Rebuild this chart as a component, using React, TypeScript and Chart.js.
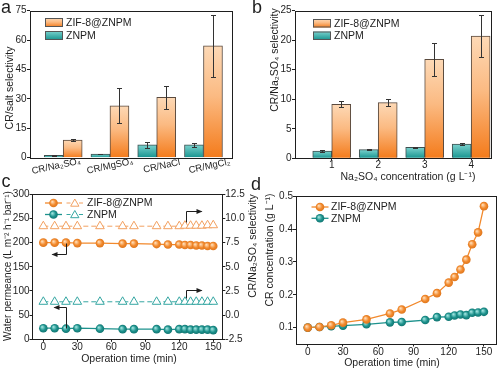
import React, { useEffect, useRef } from 'react';
import { Chart, registerables } from 'chart.js';

Chart.register(...registerables);

const FONT = "'Liberation Sans', Arial, Helvetica, sans-serif";
const INK = '#1e1e1e';

// ---------- panel a : CR/salt selectivity ----------
const saltPairs = ['CR/Na₂SO₄', 'CR/MgSO₄', 'CR/NaCl', 'CR/MgCl₂'];
const saltZnpm = [1.2, 1.9, 6.6, 6.6];
const saltZnpmErr = [0.2, 0.2, 1.5, 0.9];
const saltZif = [9.0, 26.5, 30.8, 57.1];
const saltZifErr = [0.5, 9.0, 5.7, 15.8];
const saltTicks = [0, 15, 30, 45, 60, 75];

// ---------- panel b : CR/Na2SO4 selectivity vs concentration ----------
const concLevels = ['1', '2', '3', '4'];
const concZnpm = [1.24, 1.46, 1.86, 2.42];
const concZnpmErr = [0.1, 0.08, 0.1, 0.12];
const concZif = [9.15, 9.42, 16.76, 20.7];
const concZifErr = [0.5, 0.55, 2.75, 3.5];
const concTicks = [0, 5, 10, 15, 20, 25];

// ---------- panels c, d : operation time ----------
const timeMin = [0, 10, 20, 30, 50, 70, 80, 100, 110, 120, 125, 130, 135, 140, 145, 150];
const permZif = [200, 200, 200, 199, 199, 198, 198, 197, 196, 196, 195, 195, 194, 194, 193, 193];
const permZnpm = [23, 23, 22, 23, 22, 21, 21, 21, 20, 21, 21, 20, 20, 20, 20, 19];
const selTimeZif = [9.2, 9.2, 9.2, 9.2, 9.2, 9.2, 9.2, 9.2, 9.2, 9.2, 9.25, 9.25, 9.25, 9.25, 9.3, 9.3];
const selTimeZnpm = [1.38, 1.38, 1.38, 1.38, 1.38, 1.38, 1.38, 1.38, 1.38, 1.38, 1.38, 1.38, 1.38, 1.38, 1.38, 1.38];
const crZif = [0.1, 0.102, 0.107, 0.115, 0.125, 0.143, 0.155, 0.187, 0.205, 0.237, 0.254, 0.277, 0.307, 0.354, 0.39, 0.47];
const crZnpm = [0.1, 0.102, 0.104, 0.106, 0.11, 0.116, 0.117, 0.123, 0.132, 0.133, 0.137, 0.14, 0.138, 0.145, 0.146, 0.148];

const permTicks = [0, 50, 100, 150, 200, 250, 300];
const selTicks = [-2.5, 0, 2.5, 5, 7.5, 10, 12.5];
const timeTicks = [0, 30, 60, 90, 120, 150];
const crTicks = [0.1, 0.2, 0.3, 0.4, 0.5];

// arrows in panel c (data units): x path, y path, axis, direction
const cArrows = [
  { xs: [20, 20, 8], ys: [200, 176, 176], axis: 'y', dir: 'left' },
  { xs: [20, 20, 9], ys: [23, 67, 67], axis: 'y', dir: 'left' },
  { xs: [126, 126, 139], ys: [9.6, 10.8, 10.8], axis: 'y2', dir: 'right' },
  { xs: [126, 126, 139], ys: [1.8, 2.6, 2.6], axis: 'y2', dir: 'right' },
];

// ---------- styles ----------
const ORANGE = '#f2892c';
const ORANGE_DARK = '#d9721a';
const ORANGE_LIGHT = '#ffdcb5';
const TEAL = '#1d928d';
const TEAL_DARK = '#0f6f6b';
const TEAL_LIGHT = '#9fe3de';
const ORANGE_TRI = '#f2a060';
const TEAL_TRI = '#35a6a2';
const ORANGE_BAR: [number, string][] = [[0, '#fdd9b6'], [0.45, '#fbba82'], [1, '#f47b1b']];
const TEAL_BAR: [number, string][] = [[0, '#7bd2ce'], [1, '#17948f']];
// horizontal nudges of the slanted category labels of panel a (px)
const SALT_LABEL_NUDGE = [-7, 0, 5, 6];

function barFill(stops: [number, string][]) {
  return (c: any) => {
    const chart = c.chart;
    if (c.type !== 'data' || !chart.chartArea || !c.parsed) return stops[stops.length - 1][1];
    const ys = chart.scales.y;
    const top = ys.getPixelForValue(c.parsed.y);
    const bot = ys.getPixelForValue(0);
    if (!isFinite(top) || !isFinite(bot) || Math.abs(bot - top) < 1) return stops[stops.length - 1][1];
    const g = chart.ctx.createLinearGradient(0, top, 0, bot);
    stops.forEach(([o, col]) => g.addColorStop(o, col));
    return g;
  };
}

function sphere(light: string, mid: string, dark: string, yId = 'y') {
  return (c: any) => {
    if (c.type !== 'data' || !c.parsed) return mid;
    const chart = c.chart;
    const px = chart.scales.x.getPixelForValue(c.parsed.x);
    const py = chart.scales[yId].getPixelForValue(c.parsed.y);
    if (!isFinite(px) || !isFinite(py)) return mid;
    const g = chart.ctx.createRadialGradient(px - 1.3, py - 1.3, 0.3, px, py, 4.8);
    g.addColorStop(0, light);
    g.addColorStop(0.55, mid);
    g.addColorStop(1, dark);
    return g;
  };
}

function axis(o: {
  min: number; max: number; ticks: number[]; size: number; horizontal: boolean;
  fmt?: (v: number) => string; position?: string; tickLen?: number; padding?: number; showLabels?: boolean;
}) {
  const tl = o.tickLen ?? 3;
  return {
    type: 'linear',
    position: o.position ?? (o.horizontal ? 'bottom' : 'left'),
    min: o.min,
    max: o.max,
    offset: false,
    afterBuildTicks: (s: any) => { s.ticks = o.ticks.map((v) => ({ value: v })); },
    afterFit: (s: any) => {
      if (o.horizontal) s.height = o.size; else s.width = o.size;
      s.paddingLeft = 0; s.paddingRight = 0; s.paddingTop = 0; s.paddingBottom = 0;
    },
    ticks: {
      display: o.showLabels ?? true,
      font: { family: FONT, size: 10 },
      color: INK,
      padding: o.padding ?? 0,
      autoSkip: false,
      maxRotation: 0,
      minRotation: 0,
      callback: (v: any) => (o.fmt ? o.fmt(Number(v)) : String(v)),
    },
    grid: { display: true, drawOnChartArea: false, drawTicks: tl > 0, tickLength: tl, color: INK, lineWidth: 1, offset: false },
    border: { display: false },
    title: { display: false },
  };
}

function frame(chart: any) {
  const { ctx, chartArea: a } = chart;
  const l = Math.round(a.left), t = Math.round(a.top), r = Math.round(a.right), b = Math.round(a.bottom);
  ctx.save();
  ctx.strokeStyle = INK;
  ctx.lineWidth = 1;
  ctx.strokeRect(l + 0.5, t + 0.5, r - l, b - t);
  ctx.restore();
}

type Txt = { text: string; x: number; y: number; rot?: number; size?: number; align?: CanvasTextAlign };
function texts(chart: any, list: Txt[]) {
  const ctx = chart.ctx;
  list.forEach((t) => {
    ctx.save();
    ctx.translate(t.x, t.y);
    if (t.rot) ctx.rotate(t.rot);
    ctx.font = `${t.size ?? 10.5}px ${FONT}`;
    ctx.fillStyle = INK;
    ctx.textAlign = t.align ?? 'center';
    ctx.textBaseline = 'middle';
    ctx.fillText(t.text, 0, 0);
    ctx.restore();
  });
}

function errorBars(chart: any) {
  const ctx = chart.ctx;
  const ys = chart.scales.y;
  ctx.save();
  ctx.strokeStyle = '#333';
  ctx.lineWidth = 1;
  chart.data.datasets.forEach((ds: any, di: number) => {
    const errs: number[] = ds.errors;
    if (!errs) return;
    const meta = chart.getDatasetMeta(di);
    meta.data.forEach((el: any, i: number) => {
      const v = ds.data[i].y;
      const e = errs[i];
      const x = Math.round(el.x) + 0.5;
      const y1 = Math.round(ys.getPixelForValue(v + e)) + 0.5;
      const y2 = Math.round(ys.getPixelForValue(v - e)) + 0.5;
      ctx.beginPath();
      ctx.moveTo(x, y1); ctx.lineTo(x, y2);
      ctx.moveTo(x - 2.5, y1); ctx.lineTo(x + 2.5, y1);
      ctx.moveTo(x - 2.5, y2); ctx.lineTo(x + 2.5, y2);
      ctx.stroke();
    });
  });
  ctx.restore();
}

function boxLegend(chart: any, x: number, y: number, w: number, h: number, stops: [number, string][], label: string, tx: number) {
  const ctx = chart.ctx;
  ctx.save();
  const g = ctx.createLinearGradient(0, y, 0, y + h);
  stops.forEach(([o, c]) => g.addColorStop(o, c));
  ctx.fillStyle = g;
  ctx.fillRect(x, y, w, h);
  ctx.strokeStyle = '#555';
  ctx.lineWidth = 1;
  ctx.strokeRect(x + 0.5, y + 0.5, w - 1, h - 1);
  ctx.font = `10.5px ${FONT}`;
  ctx.fillStyle = INK;
  ctx.textAlign = 'left';
  ctx.textBaseline = 'middle';
  ctx.fillText(label, tx, y + h / 2 + 0.5);
  ctx.restore();
}

function drawSphere(ctx: any, x: number, y: number, light: string, mid: string, dark: string) {
  const g = ctx.createRadialGradient(x - 1.3, y - 1.3, 0.3, x, y, 4.8);
  g.addColorStop(0, light); g.addColorStop(0.55, mid); g.addColorStop(1, dark);
  ctx.beginPath();
  ctx.arc(x, y, 4.3, 0, Math.PI * 2);
  ctx.fillStyle = g;
  ctx.fill();
}

function drawTri(ctx: any, x: number, y: number, r: number, color: string) {
  ctx.beginPath();
  for (let k = 0; k < 3; k++) {
    const a = (k * 2 * Math.PI) / 3;
    const px = x + Math.sin(a) * r, py = y - Math.cos(a) * r;
    if (k === 0) ctx.moveTo(px, py); else ctx.lineTo(px, py);
  }
  ctx.closePath();
  ctx.fillStyle = '#fff';
  ctx.fill();
  ctx.strokeStyle = color;
  ctx.lineWidth = 1;
  ctx.stroke();
}

function lineLegend(chart: any, x0: number, y: number, color: string, sph: [string, string, string], label: string, tri?: string) {
  const ctx = chart.ctx;
  ctx.save();
  ctx.strokeStyle = color;
  ctx.lineWidth = 1.3;
  ctx.beginPath(); ctx.moveTo(x0, y); ctx.lineTo(x0 + 17, y); ctx.stroke();
  drawSphere(ctx, x0 + 8.5, y, sph[0], sph[1], sph[2]);
  let tx = x0 + 19.5;
  if (tri) {
    const x1 = x0 + 21.5;
    ctx.strokeStyle = tri;
    ctx.lineWidth = 1;
    ctx.beginPath(); ctx.moveTo(x1, y); ctx.lineTo(x1 + 4, y); ctx.moveTo(x1 + 12.5, y); ctx.lineTo(x1 + 16.5, y); ctx.stroke();
    drawTri(ctx, x1 + 8.3, y + 0.8, 4.8, tri);
    tx = x1 + 20.5;
  }
  ctx.font = `10.5px ${FONT}`;
  ctx.fillStyle = INK;
  ctx.textAlign = 'left';
  ctx.textBaseline = 'middle';
  ctx.fillText(label, tx, y + 0.5);
  ctx.restore();
}

function barSets(znpm: number[], znpmErr: number[], zif: number[], zifErr: number[]) {
  return [
    {
      label: 'ZNPM',
      data: znpm.map((v, i) => ({ x: i + 1, y: v })),
      errors: znpmErr,
      backgroundColor: barFill(TEAL_BAR),
      borderColor: '#3f4f4f',
      borderWidth: 1,
      barThickness: 19,
    },
    {
      label: 'ZIF-8@ZNPM',
      data: zif.map((v, i) => ({ x: i + 1, y: v })),
      errors: zifErr,
      backgroundColor: barFill(ORANGE_BAR),
      borderColor: '#5a4a3e',
      borderWidth: 1,
      barThickness: 19,
    },
  ];
}

const baseOpts = {
  animation: false,
  responsive: false,
  maintainAspectRatio: false,
  events: [],
  plugins: { legend: { display: false }, tooltip: { enabled: false }, title: { display: false } },
};

function configA(): any {
  return {
    type: 'bar',
    data: { datasets: barSets(saltZnpm, saltZnpmErr, saltZif, saltZifErr) },
    options: {
      ...baseOpts,
      layout: { padding: { left: 0, right: 18, top: 10.7, bottom: 0 } },
      scales: {
        x: axis({ min: 0.29, max: 4.61, ticks: [1, 2, 3, 4], size: 26.3, horizontal: true, tickLen: 0, showLabels: false }),
        y: axis({ min: 0, max: 75, ticks: saltTicks, size: 30, horizontal: false, tickLen: 3, padding: 0.5 }),
      },
    },
    plugins: [{
      id: 'decorA',
      afterDatasetsDraw(chart: any) {
        errorBars(chart);
        frame(chart);
        const ctx = chart.ctx;
        const xs = chart.scales.x;
        const bottom = chart.chartArea.bottom;
        saltPairs.forEach((lab, i) => {
          ctx.save();
          ctx.translate(xs.getPixelForValue(i + 1) + SALT_LABEL_NUDGE[i], bottom + 8.5);
          ctx.rotate((-12 * Math.PI) / 180);
          ctx.font = `9.5px ${FONT}`;
          ctx.fillStyle = INK;
          ctx.textAlign = 'center';
          ctx.textBaseline = 'middle';
          ctx.fillText(lab, 0, 0);
          ctx.restore();
        });
        boxLegend(chart, 45, 18, 18, 9, ORANGE_BAR, 'ZIF-8@ZNPM', 66);
        boxLegend(chart, 45, 31, 18, 9, TEAL_BAR, 'ZNPM', 66);
        texts(chart, [{ text: 'CR/salt selectivity', x: 10, y: 88, rot: -Math.PI / 2 }]);
      },
    }],
  };
}

function configB(): any {
  return {
    type: 'bar',
    data: { datasets: barSets(concZnpm, concZnpmErr, concZif, concZifErr) },
    options: {
      ...baseOpts,
      layout: { padding: { left: 0, right: 9.3, top: 10.7, bottom: 0 } },
      scales: {
        x: axis({ min: 0.21, max: 4.42, ticks: [1, 2, 3, 4], size: 25.7, horizontal: true, tickLen: 2, padding: -1.5, fmt: (v) => concLevels[v - 1] ?? '' }),
        y: axis({ min: 0, max: 25, ticks: concTicks, size: 45, horizontal: false, tickLen: 3, padding: 0.5 }),
      },
    },
    plugins: [{
      id: 'decorB',
      afterDatasetsDraw(chart: any) {
        errorBars(chart);
        frame(chart);
        boxLegend(chart, 63, 19, 18, 8.5, ORANGE_BAR, 'ZIF-8@ZNPM', 84);
        boxLegend(chart, 63, 31.5, 18, 8.5, TEAL_BAR, 'ZNPM', 84);
        texts(chart, [
          { text: 'CR/Na₂SO₄ selectivity', x: 25, y: 60, rot: -Math.PI / 2 },
          { text: 'Na₂SO₄ concentration (g L⁻¹)', x: 158, y: 177 },
        ]);
      },
    }],
  };
}

function pts(ys: number[]) {
  return ys.map((v, i) => ({ x: timeMin[i], y: v }));
}

function configC(): any {
  return {
    type: 'line',
    data: {
      datasets: [
        {
          label: 'ZIF-8@ZNPM permeance', data: pts(permZif), yAxisID: 'y',
          borderColor: ORANGE, borderWidth: 1.3, pointStyle: 'circle', pointRadius: 4.3, pointBorderWidth: 0,
          pointBackgroundColor: sphere(ORANGE_LIGHT, ORANGE, ORANGE_DARK, 'y'),
        },
        {
          label: 'ZNPM permeance', data: pts(permZnpm), yAxisID: 'y',
          borderColor: TEAL, borderWidth: 1.3, pointStyle: 'circle', pointRadius: 4.3, pointBorderWidth: 0,
          pointBackgroundColor: sphere(TEAL_LIGHT, TEAL, TEAL_DARK, 'y'),
        },
        {
          label: 'ZIF-8@ZNPM selectivity', data: pts(selTimeZif), yAxisID: 'y2',
          borderColor: ORANGE_TRI, borderWidth: 1, borderDash: [5, 3], pointStyle: 'triangle', pointRadius: 5,
          pointBorderWidth: 1, pointBorderColor: ORANGE_TRI, pointBackgroundColor: '#ffffff',
        },
        {
          label: 'ZNPM selectivity', data: pts(selTimeZnpm), yAxisID: 'y2',
          borderColor: TEAL_TRI, borderWidth: 1, borderDash: [5, 3], pointStyle: 'triangle', pointRadius: 5,
          pointBorderWidth: 1, pointBorderColor: TEAL_TRI, pointBackgroundColor: '#ffffff',
        },
      ],
    },
    options: {
      ...baseOpts,
      layout: { padding: { left: 0, right: 0, top: 10.3, bottom: 0 } },
      scales: {
        x: axis({ min: -10, max: 158, ticks: timeTicks, size: 28.7, horizontal: true, tickLen: 2.5, padding: -0.5 }),
        y: axis({ min: 0, max: 300, ticks: permTicks, size: 32, horizontal: false, tickLen: 2.5, padding: 0 }),
        y2: axis({ min: -2.5, max: 12.5, ticks: selTicks, size: 39.7, horizontal: false, position: 'right', tickLen: 3, padding: 0, fmt: (v) => v.toFixed(1) }),
      },
    },
    plugins: [{
      id: 'decorC',
      afterDatasetsDraw(chart: any) {
        frame(chart);
        const ctx = chart.ctx;
        ctx.save();
        ctx.strokeStyle = INK;
        ctx.fillStyle = INK;
        ctx.lineWidth = 1;
        cArrows.forEach((a) => {
          const xs = a.xs.map((v) => chart.scales.x.getPixelForValue(v));
          const ys = a.ys.map((v) => chart.scales[a.axis].getPixelForValue(v));
          ctx.beginPath();
          xs.forEach((x, i) => (i === 0 ? ctx.moveTo(Math.round(x) + 0.5, Math.round(ys[i]) + 0.5) : ctx.lineTo(Math.round(x) + 0.5, Math.round(ys[i]) + 0.5)));
          ctx.stroke();
          const ex = Math.round(xs[xs.length - 1]) + 0.5, ey = Math.round(ys[ys.length - 1]) + 0.5;
          const s = a.dir === 'left' ? 1 : -1;
          ctx.beginPath();
          ctx.moveTo(ex - s * 1, ey);
          ctx.lineTo(ex + s * 5, ey - 2.5);
          ctx.lineTo(ex + s * 5, ey + 2.5);
          ctx.closePath();
          ctx.fill();
        });
        ctx.restore();
        lineLegend(chart, 45, 19, ORANGE, [ORANGE_LIGHT, ORANGE, ORANGE_DARK], 'ZIF-8@ZNPM', ORANGE_TRI);
        lineLegend(chart, 45, 30.5, TEAL, [TEAL_LIGHT, TEAL, TEAL_DARK], 'ZNPM', TEAL_TRI);
        texts(chart, [
          { text: 'Water permeance (L m⁻² h⁻¹ bar⁻¹)', x: 8, y: 82, rot: -Math.PI / 2, size: 10 },
          { text: 'CR/Na₂SO₄ selectivity', x: 253, y: 62, rot: -Math.PI / 2 },
          { text: 'Operation time (min)', x: 129, y: 175 },
        ]);
      },
    }],
  };
}

function configD(): any {
  return {
    type: 'line',
    data: {
      datasets: [
        {
          label: 'ZIF-8@ZNPM', data: pts(crZif),
          borderColor: ORANGE, borderWidth: 1.3, pointStyle: 'circle', pointRadius: 4.3, pointBorderWidth: 0,
          pointBackgroundColor: sphere(ORANGE_LIGHT, ORANGE, ORANGE_DARK),
        },
        {
          label: 'ZNPM', data: pts(crZnpm),
          borderColor: TEAL, borderWidth: 1.3, pointStyle: 'circle', pointRadius: 4.3, pointBorderWidth: 0,
          pointBackgroundColor: sphere(TEAL_LIGHT, TEAL, TEAL_DARK),
        },
      ],
    },
    options: {
      ...baseOpts,
      layout: { padding: { left: 0, right: 4.3, top: 12.3, bottom: 0 } },
      scales: {
        x: axis({ min: -10, max: 160, ticks: timeTicks, size: 24, horizontal: true, tickLen: 2.5, padding: -0.5 }),
        y: axis({ min: 0.05, max: 0.5, ticks: crTicks, size: 46, horizontal: false, tickLen: 3, padding: 0, fmt: (v) => v.toFixed(1) }),
      },
    },
    plugins: [{
      id: 'decorD',
      afterDatasetsDraw(chart: any) {
        frame(chart);
        lineLegend(chart, 61.5, 23, ORANGE, [ORANGE_LIGHT, ORANGE, ORANGE_DARK], 'ZIF-8@ZNPM');
        lineLegend(chart, 61.5, 34.3, TEAL, [TEAL_LIGHT, TEAL, TEAL_DARK], 'ZNPM');
        texts(chart, [
          { text: 'CR concentration (g L⁻¹)', x: 20, y: 66, rot: -Math.PI / 2 },
          { text: 'Operation time (min)', x: 142, y: 179 },
        ]);
      },
    }],
  };
}

function Panel({ make, left, top, width, height }: { make: () => any; left: number; top: number; width: number; height: number }) {
  const ref = useRef<HTMLCanvasElement>(null);
  useEffect(() => {
    const chart = new Chart(ref.current as HTMLCanvasElement, make());
    return () => chart.destroy();
  }, [make]);
  return (
    <div style={{ position: 'absolute', left, top, width, height }}>
      <canvas ref={ref} width={width} height={height} style={{ width, height, display: 'block' }} />
    </div>
  );
}

const letterStyle: React.CSSProperties = {
  position: 'absolute', fontFamily: FONT, fontSize: 18, lineHeight: '18px', color: INK,
};

export default function App() {
  return (
    <div style={{ position: 'absolute', left: 0, top: 0, width: 500, height: 368, background: '#ffffff', overflow: 'hidden' }}>
      <Panel make={configA} left={0} top={0} width={250} height={184} />
      <Panel make={configB} left={250} top={0} width={250} height={184} />
      <Panel make={configC} left={0} top={184} width={262} height={184} />
      <Panel make={configD} left={250} top={184} width={250} height={184} />
      <div style={{ ...letterStyle, left: 1, top: -2 }}>a</div>
      <div style={{ ...letterStyle, left: 252, top: -2 }}>b</div>
      <div style={{ ...letterStyle, left: 1.5, top: 172 }}>c</div>
      <div style={{ ...letterStyle, left: 251, top: 175 }}>d</div>
    </div>
  );
}
